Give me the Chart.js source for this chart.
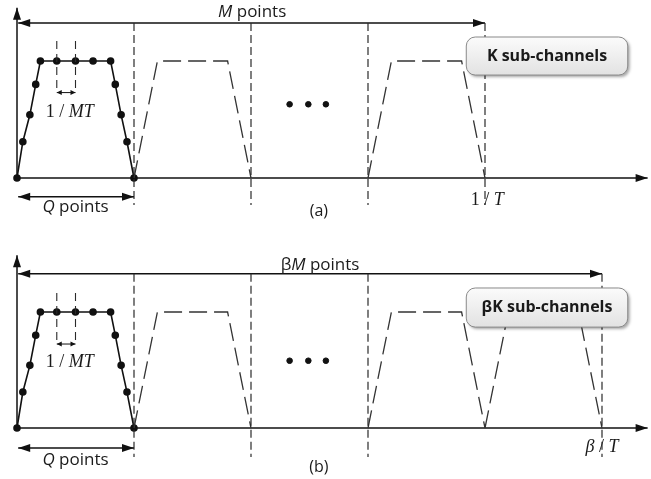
<!DOCTYPE html>
<html>
<head>
<meta charset="utf-8">
<script src="https://cdn.jsdelivr.net/npm/chart.js@4/dist/chart.umd.min.js"></script>
<style>
  body { margin: 0; background: #fff; }
  canvas { display: block; }
</style>
</head>
<body>
<canvas id="panelA" width="651" height="240"></canvas>
<canvas id="panelB" width="651" height="239"></canvas>
<script>
// Sampled prototype filter (one sub-channel wide, height 1)
const trapX = [0, 0.05, 0.11, 0.16, 0.2, 0.34, 0.5, 0.65, 0.8, 0.84, 0.89, 0.94, 1];
const trapY = [0, 0.31, 0.54, 0.8, 1, 1, 1, 1, 1, 0.8, 0.54, 0.31, 0];

// Outline of the shifted (dashed) sub-channel filters
const shapeX = [0, 0.2, 0.8, 1];
const shapeY = [0, 1, 1, 0];
const shiftsA = [1, 3];
const shiftsB = [1, 3, 4];

// Vertical dashed separators
const gridA = [1, 2, 3, 4];
const gridB = [1, 2, 3, 5];

// Two neighbouring samples marking 1/MT
const sampleTicks = [0.34, 0.5];

// "..." between sub-channels
const dotsX = [2.33, 2.49, 2.64];

// Total span: 1/T for (a), beta/T for (b)
const spanA = 4;
const spanB = 5;

const SANS = '"Open Sans", sans-serif';
const SERIF = '"Liberation Serif", "DejaVu Serif", serif';

function pts(xs, ys, dx = 0) {
    return xs.map((x, i) => ({ x: x + dx, y: ys[i] }));
}

function lineSet(data, extra = {}) {
    return Object.assign({
        data: data,
        showLine: true,
        borderColor: '#111',
        borderWidth: 1.4,
        pointRadius: 0,
        fill: false,
    }, extra);
}

/**
 * Arrowheads on the ends of datasets flagged with `arrow`
 */
const arrowPlugin = {
    id: 'arrows',
    afterDatasetsDraw(chart) {
        const ctx = chart.ctx;
        chart.data.datasets.forEach((ds, i) => {
            if (!ds.arrow) return;
            const pts = chart.getDatasetMeta(i).data;
            const len = ds.arrowLen || 12;
            const half = ds.arrowHalf || 4;
            const head = (tip, from) => {
                const a = Math.atan2(tip.y - from.y, tip.x - from.x);
                ctx.save();
                ctx.translate(tip.x, tip.y);
                ctx.rotate(a);
                ctx.beginPath();
                ctx.moveTo(0, 0);
                ctx.lineTo(-len, -half);
                ctx.lineTo(-len, half);
                ctx.closePath();
                ctx.fillStyle = '#111';
                ctx.fill();
                ctx.restore();
            };
            const n = pts.length;
            if (ds.arrow === 'end' || ds.arrow === 'both') head(pts[n - 1], pts[n - 2]);
            if (ds.arrow === 'both') head(pts[0], pts[1]);
        });
    },
};

/**
 * Rounded caption box and text labels, positioned in data coordinates
 */
const notesPlugin = {
    id: 'notes',
    afterDraw(chart, args, opts) {
        const ctx = chart.ctx;
        const sx = chart.scales.x, sy = chart.scales.y;

        (opts.boxes || []).forEach((b) => {
            const x0 = sx.getPixelForValue(b.x0), x1 = sx.getPixelForValue(b.x1);
            const y0 = sy.getPixelForValue(b.y0), y1 = sy.getPixelForValue(b.y1);
            ctx.save();
            ctx.beginPath();
            ctx.roundRect(x0, y0, x1 - x0, y1 - y0, 9);
            ctx.shadowColor = 'rgba(0,0,0,0.35)';
            ctx.shadowOffsetX = 2;
            ctx.shadowOffsetY = 2;
            ctx.shadowBlur = 3;
            const g = ctx.createLinearGradient(0, y0, 0, y1);
            g.addColorStop(0, '#fbfbfb');
            g.addColorStop(1, '#e2e2e2');
            ctx.fillStyle = g;
            ctx.fill();
            ctx.shadowColor = 'transparent';
            ctx.strokeStyle = '#8a8a8a';
            ctx.lineWidth = 1;
            ctx.stroke();
            ctx.restore();
        });

        (opts.labels || []).forEach((l) => {
            ctx.save();
            ctx.textBaseline = 'middle';
            ctx.fillStyle = l.color || '#1a1a1a';
            const fonts = l.runs.map((r) => [r.style, l.weight, l.size + 'px', l.family].filter(Boolean).join(' '));
            let total = 0;
            const widths = l.runs.map((r, i) => {
                ctx.font = fonts[i];
                const w = ctx.measureText(r.t).width;
                total += w;
                return w;
            });
            let x = sx.getPixelForValue(l.x) - total / 2;
            const y = sy.getPixelForValue(l.y);
            l.runs.forEach((r, i) => {
                ctx.font = fonts[i];
                ctx.fillText(r.t, x, y);
                x += widths[i];
            });
            ctx.restore();
        });
    },
};

function buildPanel(id, p) {
    const datasets = [];

    // dashed separators
    p.grid.forEach((gx) => {
        datasets.push(lineSet([{ x: gx, y: p.topArrowY }, { x: gx, y: p.gridBottom }],
            { borderDash: [8, 4], borderWidth: 1.2, borderColor: '#2a2a2a' }));
    });

    // dashed sample markers
    sampleTicks.forEach((tx) => {
        datasets.push(lineSet([{ x: tx, y: p.tickTop }, { x: tx, y: p.mtArrowY }],
            { borderDash: [8, 5], borderWidth: 1.1, borderColor: '#2a2a2a' }));
    });

    // shifted sub-channel filters
    p.shifts.forEach((s) => {
        datasets.push(lineSet(pts(shapeX, shapeY, s),
            { borderDash: [18, 7], borderWidth: 1.3, borderColor: '#333' }));
    });

    // axes
    datasets.push(lineSet([{ x: 0, y: 0 }, { x: 5.39, y: 0 }], { arrow: 'end', borderWidth: 1.5 }));
    datasets.push(lineSet([{ x: 0, y: 0 }, { x: 0, y: p.yAxisTop }], { arrow: 'end', borderWidth: 1.5 }));

    // span arrows
    datasets.push(lineSet([{ x: 0.01, y: p.topArrowY }, { x: p.span, y: p.topArrowY }], { arrow: 'both' }));
    datasets.push(lineSet([{ x: 0.01, y: p.qArrowY }, { x: 1, y: p.qArrowY }], { arrow: 'both' }));
    datasets.push(lineSet([{ x: sampleTicks[0], y: p.mtArrowY }, { x: sampleTicks[1], y: p.mtArrowY }],
        { arrow: 'both', arrowLen: 5, arrowHalf: 2.5, borderWidth: 1 }));

    // sampled prototype filter
    datasets.push(lineSet(pts(trapX, trapY), {
        borderWidth: 1.6,
        pointRadius: 3,
        pointBackgroundColor: '#111',
        pointBorderColor: '#111',
    }));

    // ellipsis
    datasets.push({
        data: dotsX.map((x) => ({ x: x, y: p.dotsY })),
        showLine: false,
        pointRadius: 2.8,
        pointBackgroundColor: '#111',
        pointBorderColor: '#111',
    });

    return new Chart(document.getElementById(id), {
        type: 'scatter',
        data: { datasets: datasets },
        options: {
            responsive: false,
            animation: false,
            events: [],
            layout: { padding: 0, autoPadding: false },
            elements: { line: { tension: 0 } },
            scales: {
                x: { type: 'linear', display: false, min: -17 / 117, max: 634 / 117 },
                y: { type: 'linear', display: false, min: p.yMin, max: p.yMax },
            },
            plugins: {
                legend: { display: false },
                tooltip: { enabled: false },
                notes: { boxes: p.boxes, labels: p.labels },
            },
        },
        plugins: [arrowPlugin, notesPlugin],
    });
}

buildPanel('panelA', {
    yMin: -62 / 117, yMax: 178 / 117,
    grid: gridA, shifts: shiftsA, span: spanA,
    topArrowY: 1.325, gridBottom: -0.23, yAxisTop: 1.455,
    qArrowY: -0.16, mtArrowY: 0.73, tickTop: 1.17, dotsY: 0.63,
    boxes: [{ x0: 3.84, x1: 5.22, y0: 1.205, y1: 0.88 }],
    labels: [
        { x: 2.01, y: 1.42, size: 17, family: SANS, runs: [{ t: 'M', style: 'italic' }, { t: ' points' }] },
        { x: 0.45, y: 0.56, size: 18, family: SERIF, runs: [{ t: '1 / ' }, { t: 'MT', style: 'italic' }] },
        { x: 0.5, y: -0.25, size: 17, family: SANS, runs: [{ t: 'Q', style: 'italic' }, { t: ' points' }] },
        { x: 2.58, y: -0.29, size: 16, family: SANS, runs: [{ t: '(a)' }] },
        { x: 4.02, y: -0.19, size: 18, family: SERIF, runs: [{ t: '1 / ' }, { t: 'T', style: 'italic' }] },
        { x: 4.53, y: 1.043, size: 16, weight: 'bold', family: SANS, runs: [{ t: 'K sub-channels' }] },
    ],
});

buildPanel('panelB', {
    yMin: -51 / 116, yMax: 188 / 116,
    grid: gridB, shifts: shiftsB, span: spanB,
    topArrowY: 1.33, gridBottom: -0.25, yAxisTop: 1.49,
    qArrowY: -0.172, mtArrowY: 0.724, tickTop: 1.164, dotsY: 0.58,
    boxes: [{ x0: 3.84, x1: 5.22, y0: 1.207, y1: 0.87 }],
    labels: [
        { x: 2.59, y: 1.405, size: 17, family: SANS, runs: [{ t: 'β' }, { t: 'M', style: 'italic' }, { t: ' points' }] },
        { x: 0.45, y: 0.569, size: 18, family: SERIF, runs: [{ t: '1 / ' }, { t: 'MT', style: 'italic' }] },
        { x: 0.5, y: -0.276, size: 17, family: SANS, runs: [{ t: 'Q', style: 'italic' }, { t: ' points' }] },
        { x: 2.58, y: -0.336, size: 16, family: SANS, runs: [{ t: '(b)' }] },
        { x: 5.0, y: -0.164, size: 18, family: SERIF, runs: [{ t: 'β', style: 'italic' }, { t: ' / ' }, { t: 'T', style: 'italic' }] },
        { x: 4.53, y: 1.043, size: 16, weight: 'bold', family: SANS, runs: [{ t: 'βK sub-channels' }] },
    ],
});
</script>
</body>
</html>
